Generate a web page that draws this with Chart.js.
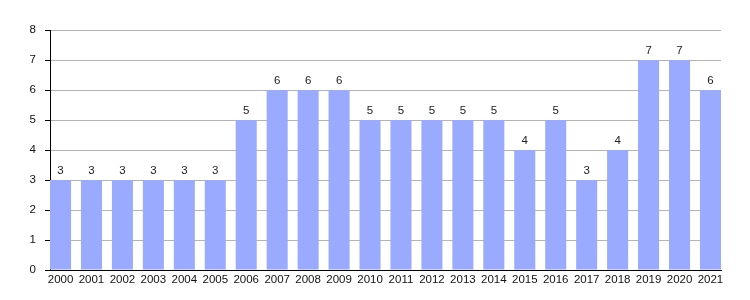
<!DOCTYPE html>
<html>
<head>
<meta charset="utf-8">
<script src="https://cdn.jsdelivr.net/npm/chart.js@4/dist/chart.umd.min.js"></script>
<style>
html,body{margin:0;padding:0;background:#fff;}
#wrap{width:750px;height:300px;}
</style>
</head>
<body>
<div id="wrap"><canvas id="c" width="750" height="300"></canvas></div>
<script>
const categories = ['2000','2001','2002','2003','2004','2005','2006','2007','2008','2009','2010','2011','2012','2013','2014','2015','2016','2017','2018','2019','2020','2021'];
const values = [3,3,3,3,3,3,5,6,6,6,5,5,5,5,5,4,5,3,4,7,7,6];
const yTicks = [0,1,2,3,4,5,6,7,8];

const FONT = 'Liberation Sans, Arial, sans-serif';

const valueLabels = {
  id: 'valueLabels',
  afterDatasetsDraw(chart) {
    const ctx = chart.ctx;
    const meta = chart.getDatasetMeta(0);
    ctx.save();
    ctx.font = '11.5px ' + FONT;
    ctx.fillStyle = '#222';
    ctx.textAlign = 'center';
    ctx.textBaseline = 'bottom';
    meta.data.forEach((bar, i) => {
      ctx.fillText(String(values[i]), bar.x, bar.y - 3);
    });
    ctx.restore();
  }
};

new Chart(document.getElementById('c'), {
  type: 'bar',
  data: {
    datasets: [{
      data: values.map((v, i) => ({x: i, y: v})),
      backgroundColor: 'rgb(153,170,255)',
      borderWidth: 0,
      barPercentage: 0.68,
      categoryPercentage: 1
    }]
  },
  options: {
    responsive: false,
    animation: false,
    devicePixelRatio: 1,
    layout: {padding: {top: 30, right: 29, left: 0, bottom: 0}},
    plugins: {legend: {display: false}, tooltip: {enabled: false}},
    scales: {
      x: {
        type: 'linear',
        offset: false,
        min: -0.34,
        max: categories.length - 1 + 0.34,
        grid: {display: false, drawTicks: false},
        border: {display: true, color: '#000', width: 1},
        ticks: {
          stepSize: 1,
          maxTicksLimit: 40,
          includeBounds: false,
          autoSkip: false,
          maxRotation: 0,
          padding: 3,
          color: '#111',
          font: {family: FONT, size: 11.5},
          callback: (v) => Number.isInteger(v) ? categories[v] : ''
        },
        afterFit(scale) { scale.height = 30; }
      },
      y: {
        min: yTicks[0],
        max: yTicks[yTicks.length - 1],
        grid: {color: '#b4b4b4', tickColor: '#000', tickLength: 5, lineWidth: 1},
        border: {display: true, color: '#000', width: 1},
        ticks: {
          stepSize: 1,
          padding: 9,
          color: '#111',
          font: {family: FONT, size: 11.5}
        },
        afterFit(scale) { scale.width = 50; }
      }
    }
  },
  plugins: [valueLabels]
});
</script>
</body>
</html>
